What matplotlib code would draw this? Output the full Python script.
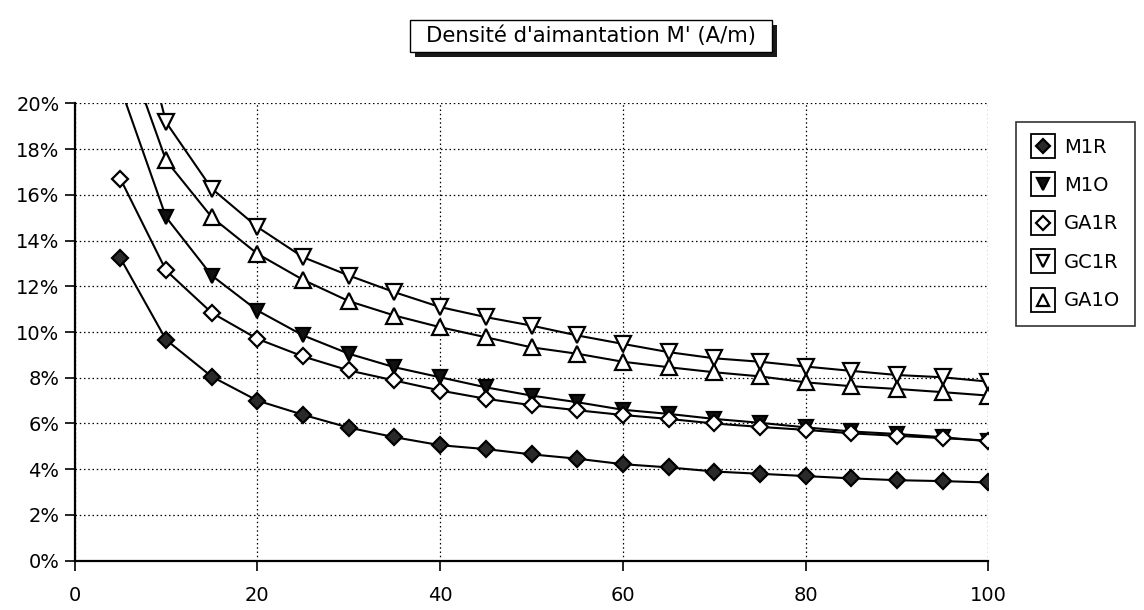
import matplotlib
matplotlib.use("Agg")
import matplotlib.pyplot as plt
from matplotlib.lines import Line2D
from matplotlib.patches import Rectangle
from matplotlib.legend_handler import HandlerTuple
from matplotlib.ticker import PercentFormatter, MultipleLocator

plt.rcParams['font.family'] = ['DejaVu Sans']

# ---------------- data ----------------
x_vals = [5, 10, 15, 20, 25, 30, 35, 40, 45, 50, 55, 60, 65, 70, 75, 80, 85, 90, 95, 100]
m1r = [13.23, 9.66, 8.05, 7.00, 6.38, 5.82, 5.40, 5.05, 4.88, 4.65, 4.46, 4.22, 4.08, 3.90,
       3.80, 3.70, 3.60, 3.52, 3.48, 3.42]
m1o = [20.7, 15.02, 12.47, 10.94, 9.85, 9.05, 8.46, 8.02, 7.58, 7.22, 6.93, 6.60, 6.42, 6.20,
       6.03, 5.83, 5.65, 5.54, 5.40, 5.22]
ga1r = [16.7, 12.69, 10.84, 9.70, 8.93, 8.32, 7.88, 7.44, 7.08, 6.80, 6.58, 6.37, 6.20, 6.00,
        5.85, 5.72, 5.57, 5.46, 5.36, 5.25]
gc1r = [27.0, 19.17, 16.27, 14.59, 13.27, 12.47, 11.74, 11.09, 10.65, 10.28, 9.85, 9.48, 9.12,
        8.85, 8.70, 8.49, 8.30, 8.12, 8.02, 7.83]
ga1o = [23.1, 17.50, 15.02, 13.42, 12.28, 11.35, 10.72, 10.21, 9.77, 9.33, 9.05, 8.70, 8.46,
        8.24, 8.06, 7.80, 7.63, 7.51, 7.37, 7.22]
series_names = ["M1R", "M1O", "GA1R", "GC1R", "GA1O"]
title_text = "Densité d'aimantation M' (A/m)"
x_ticks = [0, 20, 40, 60, 80, 100]

# ---------------- figure ----------------
W, H = 1144, 610
fig = plt.figure(figsize=(W / 100, H / 100), dpi=100)
fig.patch.set_facecolor('white')

left, right, top, bottom = 74.7, 988.3, 103.3, 560.7
ax = fig.add_axes([left / W, (H - bottom) / H, (right - left) / W, (bottom - top) / H])

styles = [
    dict(marker='D', ms=8, mfc='#2a2a2a', mec='black'),
    dict(marker='v', ms=10, mfc='#111111', mec='black'),
    dict(marker='D', ms=8, mfc='white', mec='black'),
    dict(marker='v', ms=11, mfc='white', mec='black'),
    dict(marker='^', ms=11, mfc='white', mec='black'),
]
all_series = [m1r, m1o, ga1r, gc1r, ga1o]
for ys, st in zip(all_series, styles):
    ax.plot(x_vals, ys, color='black', lw=1.5, mew=1.6, zorder=3, **st)

ax.set_xlim(0, 100)
ax.set_ylim(0, 20)
ax.set_xticks(x_ticks)
ax.yaxis.set_major_locator(MultipleLocator(2))
ax.yaxis.set_major_formatter(PercentFormatter(xmax=100, decimals=0))

ax.grid(True, color='black', linestyle=(0, (1.2, 2.2)), linewidth=0.9)
ax.set_axisbelow(True)
for s in ['top', 'right']:
    ax.spines[s].set_visible(False)
for s in ['left', 'bottom']:
    ax.spines[s].set_linewidth(1.6)
ax.tick_params(axis='both', direction='out', length=7, width=1.2, labelsize=14, pad=4)
ax.tick_params(axis='x', pad=11)

# ---------------- title box with shadow ----------------
bx0, bx1, by0, by1 = 410, 772, 20, 52
shadow = Rectangle((bx0 + 5, H - by1 - 5), bx1 - bx0, by1 - by0, transform=None,
                   facecolor='#1a1a1a', edgecolor='none', zorder=1)
box = Rectangle((bx0, H - by1), bx1 - bx0, by1 - by0, transform=None,
                facecolor='white', edgecolor='black', lw=1.0, zorder=2)
fig.patches.extend([shadow, box])
fig.text((bx0 + bx1) / 2 / W, 1 - (by0 + by1) / 2 / H, title_text, ha='center', va='center',
         fontsize=15.2, zorder=3)

# ---------------- legend ----------------
handles = []
for st in styles:
    sq = Line2D([], [], marker='s', ms=17, mfc='white', mec='black', mew=1.3, ls='')
    mk = Line2D([], [], ls='', mew=1.6, **{k: (v * 0.85 if k == 'ms' else v) for k, v in st.items()})
    handles.append((sq, mk))
leg = fig.legend(handles, series_names, handler_map={tuple: HandlerTuple(ndivide=1, pad=0)},
                 loc='upper left', bbox_to_anchor=(1016 / W, 1 - 122 / H),
                 frameon=True, fancybox=False, edgecolor='black', fontsize=14,
                 handlelength=1.2, handletextpad=0.45, labelspacing=1.0,
                 borderpad=0.8, borderaxespad=0)
leg.get_frame().set_linewidth(1.2)

fig.savefig('out.png', dpi=100, facecolor='white')
